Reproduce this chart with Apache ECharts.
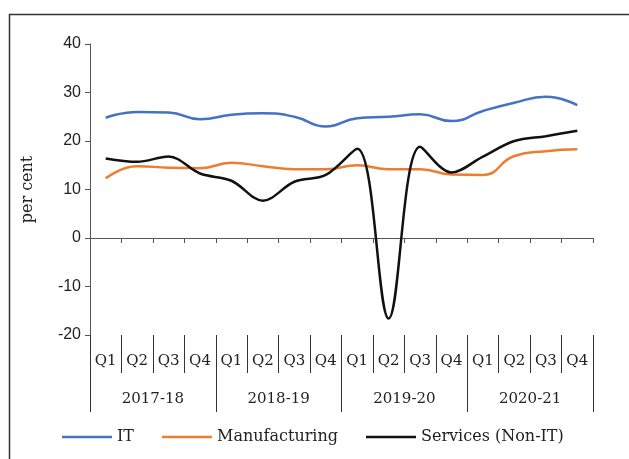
<!DOCTYPE html>
<html>
<head>
<meta charset="utf-8">
<script src="https://cdn.jsdelivr.net/npm/echarts@6/dist/echarts.min.js"></script>
<style>
  html, body { margin: 0; padding: 0; background: #fff; }
  #chart { width: 629px; height: 459px; }
</style>
</head>
<body>
<div id="chart"></div>
<script>
const quarters = ['Q1', 'Q2', 'Q3', 'Q4', 'Q1', 'Q2', 'Q3', 'Q4', 'Q1', 'Q2', 'Q3', 'Q4', 'Q1', 'Q2', 'Q3', 'Q4']
const years = ['2017-18', '2018-19', '2019-20', '2020-21']

const itData = [24.8, 26.0, 25.9, 24.5, 25.4, 25.7, 25.0, 23.0, 24.7, 25.0, 25.5, 24.1, 26.2, 27.9, 29.1, 27.4]
const manufacturingData = [12.3, 14.8, 14.5, 14.4, 15.5, 14.8, 14.2, 14.2, 15.0, 14.2, 14.2, 13.1, 13.0, 16.9, 17.9, 18.3]
const servicesData = [16.4, 15.7, 16.8, 13.3, 11.8, 7.7, 11.6, 13.0, 18.4, -16.6, 18.8, 13.5, 16.8, 20.0, 21.0, 22.1]

const serif = 'DejaVu Serif'

const chart = echarts.init(document.getElementById('chart'))

chart.setOption({
  animation: false,
  graphic: [{
    type: 'rect',
    left: 7,
    top: 12,
    shape: { width: 660, height: 480 },
    style: { fill: 'none', stroke: '#333', lineWidth: 1.5 }
  }],
  legend: {
    bottom: 9,
    left: 57,
    icon: 'rect',
    itemWidth: 50,
    itemHeight: 2.5,
    itemGap: 28,
    textStyle: { fontFamily: serif, fontSize: 16, color: '#222' },
    data: ['IT', 'Manufacturing', 'Services (Non-IT)']
  },
  grid: {
    left: 90,
    right: 36,
    top: 44,
    bottom: 124
  },
  xAxis: [{
    type: 'category',
    data: quarters,
    axisLine: { onZero: true, lineStyle: { color: '#555' } },
    axisTick: { show: true, length: 5, lineStyle: { color: '#555' } },
    axisLabel: { show: false }
  },
  {
    type: 'category',
    position: 'bottom',
    data: quarters,
    axisLine: { show: false, onZero: false },
    axisTick: { show: true, length: 38, lineStyle: { color: '#333' } },
    axisLabel: { margin: 19, fontFamily: serif, fontSize: 15, color: '#222' }
  },
  {
    type: 'category',
    position: 'bottom',
    data: years,
    axisLine: { show: false, onZero: false },
    axisTick: { show: true, length: 77, lineStyle: { color: '#333' } },
    axisLabel: { margin: 57, fontFamily: serif, fontSize: 15, color: '#222' }
  }],
  yAxis: {
    type: 'value',
    min: -20,
    max: 40,
    interval: 10,
    name: 'per cent',
    nameLocation: 'middle',
    nameRotate: 90,
    nameGap: 54,
    nameTextStyle: { fontFamily: serif, fontSize: 16, color: '#222' },
    splitLine: { show: false },
    axisLine: { show: true, lineStyle: { color: '#555' } },
    axisTick: { show: true, length: 5, lineStyle: { color: '#555' } },
    axisLabel: { fontFamily: 'Liberation Sans', fontSize: 16, color: '#222', margin: 9 }
  },
  series: [
    {
      name: 'IT',
      type: 'line',
      smooth: 0.5,
      symbol: 'none',
      data: itData,
      itemStyle: { color: '#4472C4' },
      lineStyle: { width: 2.5, color: '#4472C4' }
    },
    {
      name: 'Manufacturing',
      type: 'line',
      smooth: 0.5,
      symbol: 'none',
      data: manufacturingData,
      itemStyle: { color: '#ED7D31' },
      lineStyle: { width: 2.5, color: '#ED7D31' }
    },
    {
      name: 'Services (Non-IT)',
      type: 'line',
      smooth: 0.35,
      symbol: 'none',
      data: servicesData,
      itemStyle: { color: '#111' },
      lineStyle: { width: 2.5, color: '#111' }
    }
  ]
})
</script>
</body>
</html>
